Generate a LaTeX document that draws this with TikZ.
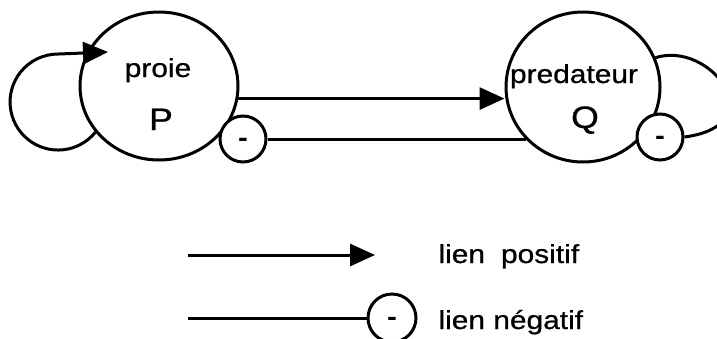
\documentclass[tikz,border=0pt]{standalone}
\usepackage{fontspec}
\setmainfont{Liberation Sans}[FakeStretch=1.15,FakeBold=0.8]
\usetikzlibrary{arrows.meta,shapes.geometric}
\begin{document}
\begin{tikzpicture}[x=1pt,y=-1pt,line width=3pt,
  big/.style={draw, ellipse, inner sep=0pt},
  minus/.style={draw, circle, fill=white, minimum size=46pt, inner sep=0pt,
    text height=13.3pt, text depth=0pt,
    font=\fontsize{24}{26}\selectfont\bfseries},
  lab/.style={font=\fontsize{26}{30}\selectfont, inner sep=0pt, anchor=base},
  biglab/.style={font=\fontsize{31}{34}\selectfont, inner sep=0pt, anchor=base},
  poslink/.style={-{Triangle[length=25pt,width=22pt]}},
]
\useasboundingbox (0,0) rectangle (717,338);
% main nodes
\node[big, minimum width=158pt, minimum height=148pt] (P) at (159,86) {};
\node[big, minimum width=154pt, minimum height=150pt] (Q) at (583,87) {};
\node[lab]    (ptxt)  at (158,77)  {proie};
\node[biglab] (pname) at (161,130) {P};
\node[lab]    (qtxt)  at (574,83)  {predateur};
\node[biglab] (qname) at (585,128) {Q};
% self loop on P
\coordinate (ptip) at (108,52);
\draw[poslink] (P.216) arc[start angle=-39, end angle=-270, radius=48pt] -- (ptip);
% positive link P -> Q
\draw[poslink] (P.-9) -- (P.-9 -| Q.west);
% minus markers
\node[minus] (pm) at (243,139) {-};
\node[minus] (qm) at (660,137) {-};
% negative link Q -> P
\draw (pm.east) -- (pm.east -| Q.223);
% self loop on Q (negative)
\draw (Q.22) .. controls (710,40) and (775,125) .. (qm.east);
% legend
\coordinate (l1a) at (188,255);
\coordinate (l1b) at (375,255);
\draw[poslink] (l1a) -- (l1b);
\node[lab, anchor=base west] (t1) at (437,263) {lien\hspace{16pt}positif};
\node[minus, minimum size=48pt] (lm) at (392,318) {-};
\coordinate (l2a) at (188,318);
\draw (l2a) -- (lm.west);
\node[lab, anchor=base west] (t2) at (437,329) {lien négatif};
\end{tikzpicture}
\end{document}
